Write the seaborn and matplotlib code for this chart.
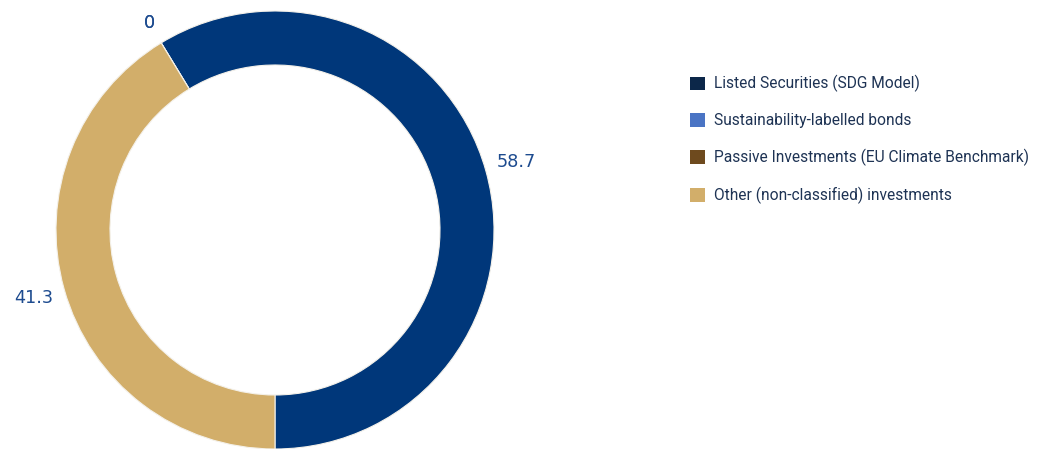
import numpy as np
import matplotlib
matplotlib.use("Agg")
import matplotlib.pyplot as plt
from matplotlib.patches import Patch
import seaborn as sns

## chart data
categories = ["Listed Securities (SDG Model)", "Sustainability-labelled bonds",
              "Passive Investments (EU Climate Benchmark)", "Other (non-classified) investments"]
values = [58.7, 0, 0, 41.3]
value_labels = ["58.7", "0", "0", "41.3"]

slice_colors = ["#00377a", "#4a74c4", "#6e4a1e", "#d2ae6a"]
legend_colors = ["#0c2749", "#4a74c4", "#6e4a1e", "#d2ae6a"]

sns.set_theme(style="white")
plt.rcParams['font.family'] = ['DejaVu Sans']

W, H = 1041, 449
fig = plt.figure(figsize=(W / 100, H / 100), dpi=100)
ax = fig.add_axes([0, 0, 1, 1])

## donut centre and radius in pixels (y up)
cx, cy, r = 275, H - 230, 219
wedges, _ = ax.pie(values, colors=slice_colors, startangle=270, counterclock=True,
                   center=(cx, cy), radius=r, normalize=True,
                   wedgeprops={"width": 54, "edgecolor": "#f4f1ea", "linewidth": 0.8})

## value labels at wedge mid-angles
for w, lab, v in zip(wedges, value_labels, values):
    mid = np.deg2rad((w.theta1 + w.theta2) / 2)
    dist = 251 if v > 0 else 242
    ax.text(cx + dist * np.cos(mid), cy + dist * np.sin(mid), lab,
            ha="center", va="center", fontsize=12.7, color="#1d4b8f")

ax.set_xlim(0, W)
ax.set_ylim(0, H)
ax.set_aspect("auto")
ax.axis("off")

handles = [Patch(facecolor=c, edgecolor="none") for c in legend_colors]
leg = ax.legend(handles, categories, loc="upper left", bbox_to_anchor=(684 / W, 1 - 69 / H),
                frameon=False, handlelength=0.95, handleheight=0.95, handletextpad=0.6,
                labelspacing=1.33, borderaxespad=0,
                prop={"family": "Roboto", "size": 11.2})
for t in leg.get_texts():
    t.set_color("#1e3354")

fig.savefig("out.png", dpi=100)
